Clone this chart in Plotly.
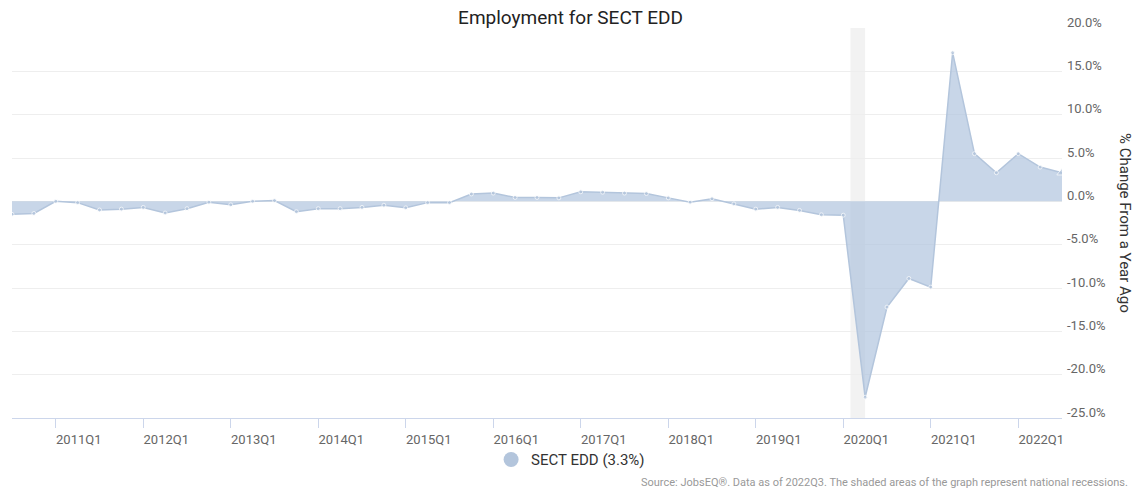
import plotly.graph_objects as go

quarters = [f"{y}Q{q}" for y in range(2010, 2023) for q in range(1, 5)]
quarters = quarters[2:2 + 49]  # 2010Q3 .. 2022Q3

values = [
    -1.5, -1.4,
    0.0, -0.15, -1.0, -0.9,
    -0.7, -1.35, -0.85, -0.1,
    -0.4, 0.0, 0.1, -1.2,
    -0.85, -0.85, -0.7, -0.45,
    -0.75, -0.15, -0.15, 0.85,
    0.95, 0.45, 0.45, 0.4,
    1.1, 1.05, 0.95, 0.9,
    0.4, -0.1, 0.3, -0.3,
    -0.9, -0.7, -1.05, -1.55,
    -1.6, -22.6, -12.2, -8.9,
    -9.9, 17.15, 5.5, 3.3,
    5.5, 3.95, 3.3,
]

tick_labels = [q for q in quarters if q.endswith("Q1")]
y_ticks = [-25, -20, -15, -10, -5, 0, 5, 10, 15, 20]
series_name = "SECT EDD (3.3%)"
recession = (38.33, 39.0)  # Feb 2020 .. Apr 2020 in quarter index units

x = list(range(len(quarters)))
tick_pos = [quarters.index(t) for t in tick_labels]

line_col = "#b3c5dc"
fill_col = "rgba(176,196,222,0.70)"

fig = go.Figure()
fig.add_vrect(x0=recession[0], x1=recession[1], fillcolor="#f2f2f2",
              line_width=0, layer="below")

symbols = ["circle"] * (len(values) - 1) + ["triangle-up"]
sizes = [4] * (len(values) - 1) + [9]
fig.add_trace(go.Scatter(
    x=x, y=values, mode="lines+markers", fill="tozeroy",
    fillcolor=fill_col, line=dict(color=line_col, width=1.5),
    marker=dict(color=line_col, size=sizes, symbol=symbols),
    showlegend=False, name=series_name,
))
fig.add_trace(go.Scatter(
    x=[None], y=[None], mode="markers", name=series_name,
    marker=dict(color="#b3c5dc", size=15, symbol="circle"),
    showlegend=True,
))

fig.update_layout(
    width=1141, height=490,
    margin=dict(l=12, r=79, t=28, b=72),
    paper_bgcolor="white", plot_bgcolor="white",
    font=dict(family="Roboto", color="#333333"),
    title=dict(text="Employment for SECT EDD", x=0.5, xanchor="center",
               y=0.965, yanchor="middle", font=dict(size=19, color="#222222")),
    legend=dict(orientation="h", x=0.532, xanchor="center", y=-0.107,
                yanchor="middle", font=dict(size=15, color="#333333"),
                itemwidth=30, bgcolor="rgba(0,0,0,0)"),
    showlegend=True,
)

fig.update_xaxes(
    range=[0, len(quarters) - 1], tickmode="array", tickvals=tick_pos,
    ticktext=tick_labels, ticks="outside", ticklen=9, tickcolor="#ccd6eb",
    showgrid=False, zeroline=False, showline=True, linecolor="#ccd6eb",
    tickfont=dict(size=13, color="#666666"), ticklabelshift=23,
)
fig.update_yaxes(
    range=[-25, 20], side="right", tickmode="array", tickvals=y_ticks,
    ticktext=[f"{v:.1f}%" for v in y_ticks],
    showgrid=True, gridcolor="#eeeeee", gridwidth=1, zeroline=False,
    tickfont=dict(size=13, color="#666666"), ticks="", showline=False,
    ticklabelshift=-6, ticklabelstandoff=4,
)

fig.add_annotation(
    text="% Change From a Year Ago", textangle=90, xref="paper", yref="paper",
    x=1.0, xshift=74, y=0.5, showarrow=False,
    font=dict(size=15, color="#333333"),
)
fig.add_annotation(
    text="Source: JobsEQ®. Data as of 2022Q3. The shaded areas of the graph represent national recessions.",
    xref="paper", yref="paper", x=1.0, xshift=68, xanchor="right",
    y=-0.165, yanchor="middle", showarrow=False,
    font=dict(size=11, color="#999999"),
)

fig.write_html("out.html")
